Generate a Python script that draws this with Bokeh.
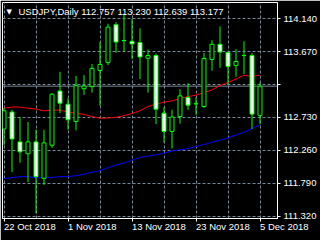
from bokeh.plotting import figure
from bokeh.models import Range1d, FixedTicker, Label, Span, ColumnDataSource
from bokeh.embed import file_html
from bokeh.resources import INLINE

symbol = "USDJPY"
timeframe = "Daily"

dates = ["22 Oct 2018", "23 Oct 2018", "24 Oct 2018", "25 Oct 2018", "26 Oct 2018",
         "29 Oct 2018", "30 Oct 2018", "31 Oct 2018", "1 Nov 2018", "2 Nov 2018",
         "5 Nov 2018", "6 Nov 2018", "7 Nov 2018", "8 Nov 2018", "9 Nov 2018",
         "12 Nov 2018", "13 Nov 2018", "14 Nov 2018", "15 Nov 2018", "16 Nov 2018",
         "19 Nov 2018", "20 Nov 2018", "21 Nov 2018", "22 Nov 2018", "23 Nov 2018",
         "26 Nov 2018", "27 Nov 2018", "28 Nov 2018", "29 Nov 2018", "30 Nov 2018",
         "3 Dec 2018", "4 Dec 2018", "5 Dec 2018"]

opens = [112.566, 112.807, 112.381, 112.211, 112.381, 111.861, 112.333, 113.109,
         112.920, 112.673, 113.141, 113.170, 113.402, 113.516, 114.055, 113.830,
         113.818, 113.800, 113.577, 113.615, 112.792, 112.531, 112.744, 113.014,
         112.924, 112.886, 113.558, 113.775, 113.658, 113.473, 113.614, 113.615,
         112.757]
highs = [112.867, 112.840, 112.736, 112.665, 112.556, 112.556, 113.076, 113.383,
         113.005, 113.322, 113.336, 113.492, 113.808, 114.069, 114.092, 114.211,
         114.140, 114.002, 113.700, 113.644, 112.878, 112.839, 113.133, 113.218,
         113.014, 113.652, 113.832, 114.031, 113.670, 113.705, 113.818, 113.652,
         113.230]
lows = [112.333, 111.950, 112.083, 111.808, 111.360, 111.766, 112.296, 112.792,
        112.556, 112.546, 113.052, 113.085, 112.896, 113.478, 113.652, 113.666,
        113.563, 113.279, 113.085, 112.636, 112.376, 112.286, 112.641, 112.839,
        112.768, 112.863, 113.397, 113.439, 113.194, 113.312, 113.350, 112.566,
        112.639]
closes = [112.825, 112.424, 112.239, 112.381, 111.885, 112.367, 113.062, 112.934,
          112.697, 113.184, 113.180, 113.431, 113.488, 114.021, 113.808, 113.826,
          113.780, 113.595, 113.615, 112.849, 112.531, 112.736, 113.038, 112.906,
          112.926, 113.573, 113.775, 113.666, 113.459, 113.530, 113.616, 112.778,
          113.177]

ma_red = [112.863, 112.878, 112.878, 112.863, 112.849, 112.825, 112.835, 112.835,
          112.807, 112.792, 112.773, 112.744, 112.719, 112.722, 112.733, 112.754,
          112.787, 112.825, 112.886, 112.920, 112.948, 112.967, 113.000, 113.028,
          113.048, 113.085, 113.123, 113.187, 113.227, 113.279, 113.332, 113.317,
          113.332]
ma_blue = [111.856, 111.870, 111.885, 111.885, 111.870, 111.870, 111.870, 111.885,
           111.885, 111.899, 111.917, 111.950, 111.970, 112.012, 112.049, 112.078,
           112.120, 112.158, 112.177, 112.197, 112.219, 112.251, 112.268, 112.286,
           112.314, 112.343, 112.375, 112.404, 112.438, 112.480, 112.517, 112.570,
           112.626]

price_ticks = [111.32, 111.79, 112.26, 112.73, 113.20, 113.67, 114.14]
price_tick_labels = ["111.320", "111.790", "112.260", "112.730", "", "113.670", "114.140"]
date_tick_bars = [0, 8, 16, 24, 32]
grid_bars = [0, 4, 8, 12, 16, 20, 24, 28, 32]

FONT = "Liberation Sans"
FS = "9.5px"
GRID = "#778899"
LIME = "#00FF00"

n = len(opens)
xs = list(range(n))
src = ColumnDataSource(dict(
    x=xs, o=opens, h=highs, l=lows, c=closes,
    top=[max(a, b) for a, b in zip(opens, closes)],
    bot=[min(a, b) for a, b in zip(opens, closes)],
    fill=["black" if c >= o else "white" for o, c in zip(opens, closes)],
))

p = figure(width=320, height=240, output_backend="svg", toolbar_location=None,
           x_range=Range1d(-0.1875, n + 1.1875), y_range=Range1d(111.287, 114.372),
           y_axis_location="right",
           min_border_left=2, min_border_top=2, min_border_right=43, min_border_bottom=21,
           background_fill_color="black", border_fill_color="black",
           outline_line_color="white", outline_line_width=1)

# grids
p.ygrid[0].ticker = FixedTicker(ticks=price_ticks)
p.xgrid[0].ticker = FixedTicker(ticks=grid_bars)
for g in (p.xgrid[0], p.ygrid[0]):
    g.grid_line_color = GRID
    g.grid_line_dash = "3 2"
    g.grid_line_width = 1

# price line
p.add_layout(Span(location=closes[-1], dimension="width", line_color=GRID,
                  line_width=1, level="underlay"))

# moving averages
p.line("x", "y", source=ColumnDataSource(dict(x=xs, y=ma_red)), line_color="#FF0000", line_width=1)
p.line("x", "y", source=ColumnDataSource(dict(x=xs, y=ma_blue)), line_color="#0000FF", line_width=1)

# candles
p.segment(x0="x", y0="l", x1="x", y1="h", source=src, line_color=LIME, line_width=1)
p.vbar(x="x", width=0.5, top="top", bottom="bot", source=src,
       fill_color="fill", line_color=LIME, line_width=1)

# right price axis
ya = p.yaxis[0]
ya.ticker = FixedTicker(ticks=price_ticks)
ya.major_label_overrides = dict(zip(price_ticks, price_tick_labels))
ya.major_label_standoff = 3

# bottom date axis; a vanishingly small negative angle makes Bokeh left-align
# the labels at their ticks, as MetaTrader does
xa = p.xaxis[0]
xa.ticker = FixedTicker(ticks=date_tick_bars)
xa.major_label_overrides = {b: dates[b] for b in date_tick_bars}
xa.major_label_orientation = -1e-6
xa.major_label_standoff = 5

for ax in (xa, ya):
    ax.axis_line_color = "white"
    ax.major_tick_line_color = "white"
    ax.major_tick_in = 0
    ax.major_tick_out = 3
    ax.minor_tick_line_color = None
    ax.major_label_text_color = "white"
    ax.major_label_text_font = FONT
    ax.major_label_text_font_size = FS

# title inside chart
title = f"{symbol},{timeframe}  {opens[-1]:.3f} {highs[-1]:.3f} {lows[-1]:.3f} {closes[-1]:.3f}"
p.add_layout(Label(x=p.x_range.start, y=p.y_range.end, x_offset=16, y_offset=-3,
                   text=title, text_baseline="top", text_align="left",
                   text_color="white", text_font=FONT, text_font_size=FS))
p.add_layout(Label(x=p.x_range.start, y=p.y_range.end, x_offset=4, y_offset=-5,
                   text="\u25BC", text_baseline="top", text_align="left",
                   text_color="white", text_font="DejaVu Sans", text_font_size="7px"))

# current price tag
p.add_layout(Label(x=p.x_range.end, y=closes[-1], x_offset=2,
                   text=f"{closes[-1]:.3f}", text_baseline="middle", text_align="left",
                   text_color="black", text_font=FONT, text_font_size=FS,
                   background_fill_color="white",
                   padding=dict(left=4, right=6, top=1, bottom=1)))

open("out.html", "w").write(file_html(p, INLINE))
